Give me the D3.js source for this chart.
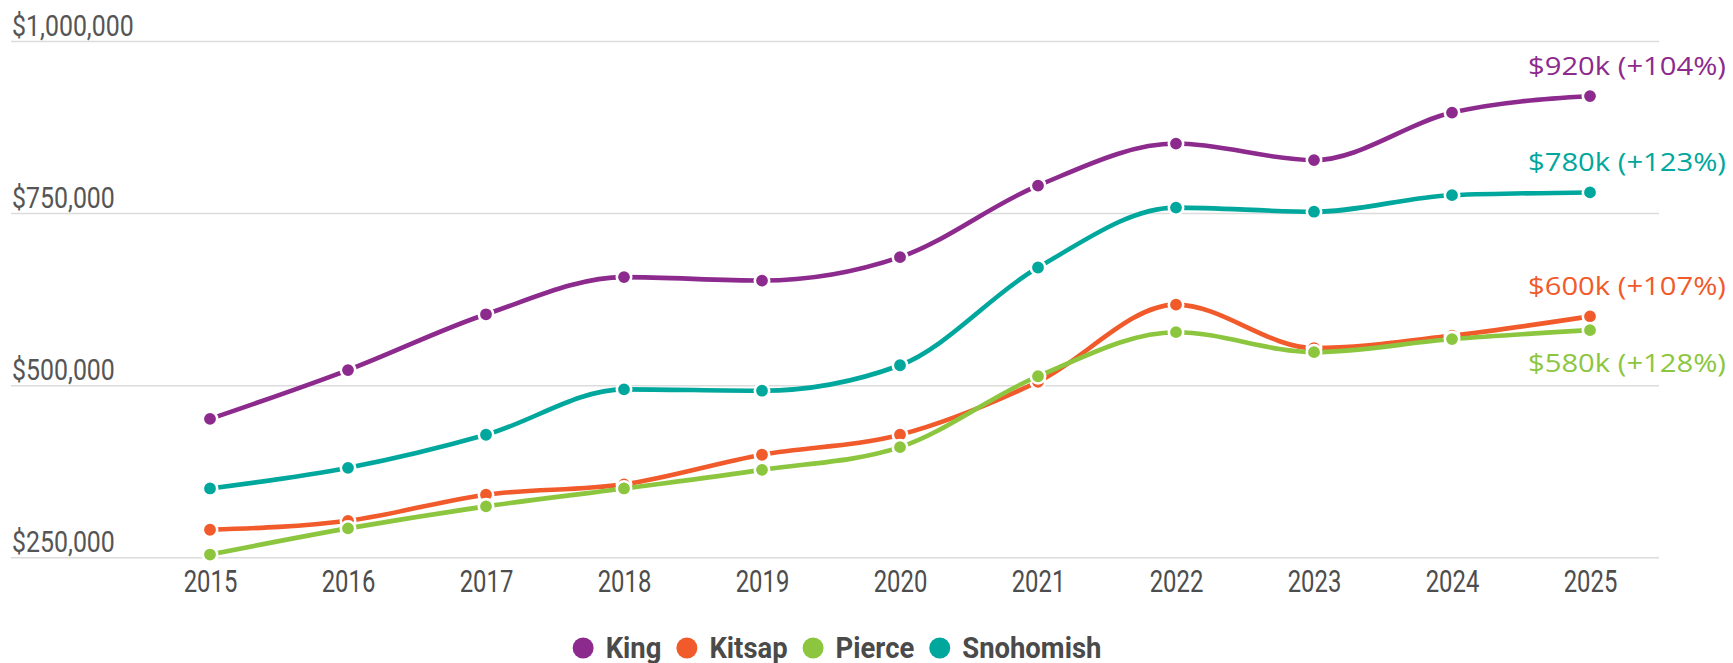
<!DOCTYPE html>
<html>
<head>
<meta charset="utf-8">
<script src="https://cdn.jsdelivr.net/npm/d3@7"></script>
<style>
  html, body { margin: 0; padding: 0; background: #fff; }
  svg { display: block; }
</style>
</head>
<body>
<svg id="chart" width="1733" height="663"></svg>
<script>
const years = [2015, 2016, 2017, 2018, 2019, 2020, 2021, 2022, 2023, 2024, 2025];
const seriesNames = ["King", "Kitsap", "Pierce", "Snohomish"];
const king      = [451000, 522000, 603000, 657000, 652000, 686000, 790000, 851000, 827000, 896000, 920000];
const kitsap    = [290000, 303000, 341000, 356000, 399000, 428000, 505000, 617000, 554000, 572000, 600000];
const pierce    = [254000, 292000, 324000, 350000, 377000, 410000, 513000, 577000, 548000, 567000, 580000];
const snohomish = [350000, 380000, 428000, 494000, 492000, 529000, 671000, 758000, 752000, 776000, 780000];
const yTicks = [250000, 500000, 750000, 1000000];
const colors = ["#8c2a8d", "#f15a2b", "#8cc63f", "#00a79d"];

const seriesValues = [king, kitsap, pierce, snohomish];
const series = seriesNames.map((name, i) => ({
  name, color: colors[i],
  values: years.map((yr, j) => ({ year: yr, value: seriesValues[i][j] }))
}));

const svg = d3.select("#chart");
const x = d3.scaleLinear().domain([2015, 2025]).range([210, 1590]);
const y = d3.scaleLinear().domain([250000, 1000000]).range([557.3, 41]);
const gridLeft = 11, gridRight = 1659;

function condense(sel, factor) {
  sel.each(function () {
    const w = this.getComputedTextLength();
    d3.select(this).attr("textLength", w * factor).attr("lengthAdjust", "spacingAndGlyphs");
  });
}

// gridlines + y labels
const yAxis = d3.axisLeft(y).tickValues(yTicks).tickSize(0)
  .tickFormat(d => "$" + d3.format(",")(d));
const gy = svg.append("g").attr("transform", `translate(${gridLeft},0)`).call(yAxis);
gy.select(".domain").remove();
gy.selectAll(".tick line")
  .attr("x1", 0).attr("x2", gridRight - gridLeft)
  .attr("stroke", "#dcdcdc").attr("stroke-width", 1.5);
gy.selectAll(".tick text")
  .attr("x", 1).attr("dy", -6)
  .attr("text-anchor", "start")
  .attr("font-family", "Roboto, sans-serif")
  .attr("font-size", 30)
  .attr("fill", "#555");
condense(gy.selectAll(".tick text"), 0.83);

// x axis
const xAxis = d3.axisBottom(x).tickValues(years).tickSize(0).tickFormat(d3.format("d"));
const gx = svg.append("g").attr("transform", `translate(0,${y(250000)})`).call(xAxis);
gx.select(".domain").remove();
gx.selectAll(".tick text")
  .attr("y", 34.4).attr("dy", 0)
  .attr("font-family", "Roboto, sans-serif")
  .attr("font-size", 31)
  .attr("fill", "#4d4d4d");
condense(gx.selectAll(".tick text"), 0.77);

// lines
const line = d3.line()
  .x(d => x(d.year))
  .y(d => y(d.value))
  .curve(d3.curveMonotoneX);

series.forEach(s => {
  const g = svg.append("g");
  g.append("path")
    .datum(s.values)
    .attr("d", line)
    .attr("fill", "none")
    .attr("stroke", s.color)
    .attr("stroke-width", 4.6)
    .attr("stroke-linejoin", "round")
    .attr("stroke-linecap", "round");
  g.selectAll("circle")
    .data(s.values)
    .join("circle")
    .attr("cx", d => x(d.year))
    .attr("cy", d => y(d.value))
    .attr("r", 7.2)
    .attr("fill", s.color)
    .attr("stroke", "#fff")
    .attr("stroke-width", 2.6);
});

// end labels
const ordered = series.slice().sort((a, b) => b.values[b.values.length - 1].value - a.values[a.values.length - 1].value);
let prevBase = -Infinity;
ordered.forEach(s => {
  const first = s.values[0].value, last = s.values[s.values.length - 1].value;
  const pct = Math.round((last / first - 1) * 100);
  const txt = "$" + Math.round(last / 1000) + "k (+" + pct + "%)";
  const py = y(last);
  let base = py - 21;
  if (base - prevBase < 30) base = py + 42;
  prevBase = base;
  svg.append("text")
    .attr("x", 1726).attr("y", base)
    .attr("text-anchor", "end")
    .attr("font-family", "'Open Sans', sans-serif")
    .attr("font-size", 26)
    .attr("fill", s.color)
    .attr("textLength", 198).attr("lengthAdjust", "spacingAndGlyphs")
    .text(txt);
});

// legend
const legend = svg.append("g");
let cx = 0;
series.forEach((s, i) => {
  legend.append("circle")
    .attr("cx", cx + 10.5).attr("cy", 648).attr("r", 10.5)
    .attr("fill", s.color);
  const t = legend.append("text")
    .attr("x", cx + 33).attr("y", 657.5)
    .attr("font-family", "Roboto, sans-serif")
    .attr("font-weight", 700)
    .attr("font-size", 29.5)
    .attr("fill", "#4a4a4a")
    .text(s.name);
  const w = t.node().getComputedTextLength() * 0.93;
  t.attr("textLength", w).attr("lengthAdjust", "spacingAndGlyphs");
  cx += 33 + w + 15;
});
const totalW = cx - 15;
legend.attr("transform", `translate(${837 - totalW / 2},0)`);
</script>
</body>
</html>
